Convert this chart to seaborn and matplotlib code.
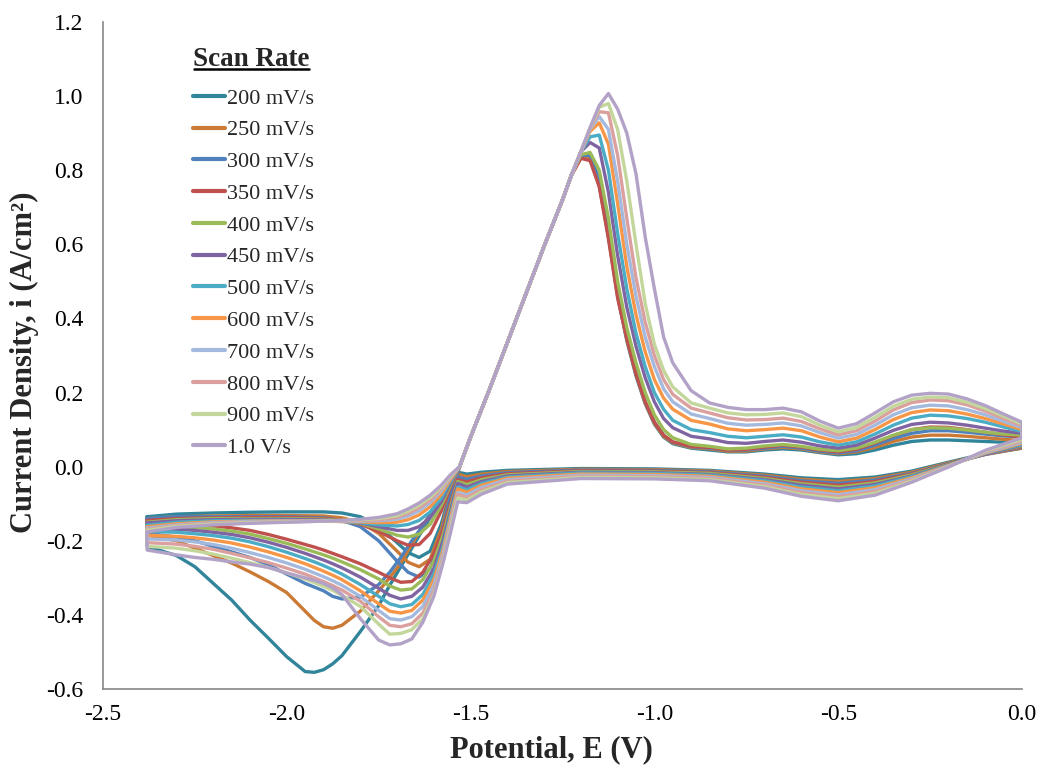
import matplotlib
matplotlib.use("Agg")
import matplotlib.pyplot as plt
import seaborn as sns
import pandas as pd
from matplotlib.ticker import MultipleLocator, FormatStrFormatter
from matplotlib.lines import Line2D
from matplotlib.transforms import IdentityTransform

# ---------------- data ----------------
labels = ['200 mV/s', '250 mV/s', '300 mV/s', '350 mV/s', '400 mV/s', '450 mV/s',
          '500 mV/s', '600 mV/s', '700 mV/s', '800 mV/s', '900 mV/s', '1.0 V/s']
colors = ['#31859B', '#CB7A35', '#4F81BD', '#C0504D', '#9BBB59', '#8064A2',
          '#4BACC6', '#F79646', '#A3B9DE', '#DBA09E', '#C3D69B', '#B3A2C7']

# return sweep (from -2.38 V back towards the anodic peak)
E_ret = [-2.38, -2.3, -2.2, -2.1, -2.0, -1.9, -1.85, -1.8, -1.75, -1.7, -1.67, -1.64, -1.61, -1.58, -1.555, -1.53]
i_ret = [
    [-0.135, -0.128, -0.125, -0.123, -0.122, -0.122, -0.125, -0.135, -0.16, -0.205, -0.232, -0.245, -0.228, -0.155, -0.07, 0.0],
    [-0.14, -0.135, -0.133, -0.132, -0.132, -0.133, -0.138, -0.15, -0.18, -0.228, -0.258, -0.27, -0.25, -0.17, -0.075, 0.0],
    [-0.14, -0.135, -0.135, -0.135, -0.135, -0.138, -0.145, -0.162, -0.2, -0.255, -0.285, -0.298, -0.275, -0.185, -0.08, 0.0],
    [-0.145, -0.14, -0.138, -0.137, -0.137, -0.14, -0.145, -0.155, -0.175, -0.2, -0.212, -0.21, -0.18, -0.12, -0.055, 0.0],
    [-0.15, -0.143, -0.14, -0.14, -0.14, -0.142, -0.146, -0.153, -0.168, -0.185, -0.19, -0.182, -0.155, -0.105, -0.05, 0.0],
    [-0.152, -0.146, -0.143, -0.142, -0.142, -0.144, -0.147, -0.152, -0.162, -0.172, -0.172, -0.162, -0.137, -0.095, -0.045, 0.0],
    [-0.158, -0.15, -0.146, -0.145, -0.145, -0.146, -0.148, -0.151, -0.157, -0.16, -0.156, -0.145, -0.122, -0.085, -0.04, 0.0],
    [-0.162, -0.154, -0.149, -0.147, -0.146, -0.147, -0.148, -0.149, -0.151, -0.15, -0.143, -0.13, -0.108, -0.075, -0.035, 0.0],
    [-0.166, -0.157, -0.151, -0.148, -0.147, -0.147, -0.147, -0.147, -0.146, -0.142, -0.133, -0.119, -0.097, -0.066, -0.03, 0.0],
    [-0.169, -0.159, -0.153, -0.15, -0.148, -0.147, -0.146, -0.145, -0.143, -0.137, -0.126, -0.111, -0.09, -0.06, -0.028, 0.0],
    [-0.172, -0.161, -0.155, -0.151, -0.149, -0.147, -0.145, -0.143, -0.14, -0.132, -0.12, -0.104, -0.083, -0.055, -0.025, 0.0],
    [-0.176, -0.164, -0.157, -0.153, -0.15, -0.147, -0.145, -0.142, -0.137, -0.127, -0.114, -0.098, -0.077, -0.05, -0.022, 0.0],
]

# common anodic rising edge
E_rise = [-1.5, -1.45, -1.4, -1.35, -1.3, -1.25]
i_rise = [0.08, 0.205, 0.335, 0.465, 0.595, 0.72]

# anodic peak region
E_peak = [-1.225, -1.2, -1.175, -1.15, -1.125, -1.1, -1.075, -1.05, -1.025, -1.0, -0.975, -0.95, -0.9]
i_peak = [
    [0.79, 0.835, 0.83, 0.76, 0.62, 0.46, 0.34, 0.245, 0.17, 0.115, 0.08, 0.062, 0.05],
    [0.79, 0.837, 0.832, 0.765, 0.625, 0.465, 0.345, 0.25, 0.172, 0.117, 0.082, 0.064, 0.052],
    [0.79, 0.84, 0.84, 0.775, 0.635, 0.47, 0.35, 0.255, 0.175, 0.12, 0.085, 0.066, 0.054],
    [0.787, 0.832, 0.826, 0.755, 0.615, 0.455, 0.345, 0.25, 0.175, 0.12, 0.085, 0.067, 0.055],
    [0.788, 0.842, 0.848, 0.8, 0.67, 0.5, 0.375, 0.28, 0.2, 0.14, 0.1, 0.078, 0.06],
    [0.788, 0.85, 0.875, 0.86, 0.74, 0.57, 0.43, 0.325, 0.24, 0.175, 0.13, 0.105, 0.082],
    [0.788, 0.85, 0.89, 0.895, 0.8, 0.63, 0.48, 0.36, 0.27, 0.2, 0.155, 0.125, 0.1],
    [0.788, 0.85, 0.905, 0.928, 0.87, 0.71, 0.54, 0.41, 0.31, 0.235, 0.185, 0.155, 0.125],
    [0.788, 0.85, 0.91, 0.945, 0.91, 0.77, 0.6, 0.46, 0.35, 0.27, 0.21, 0.175, 0.142],
    [0.788, 0.85, 0.912, 0.958, 0.955, 0.84, 0.67, 0.51, 0.39, 0.3, 0.235, 0.195, 0.158],
    [0.788, 0.85, 0.913, 0.97, 0.98, 0.91, 0.77, 0.6, 0.44, 0.33, 0.26, 0.215, 0.172],
    [0.788, 0.85, 0.915, 0.975, 1.007, 0.965, 0.9, 0.79, 0.62, 0.48, 0.35, 0.28, 0.205],
]

# anodic tail up to the switching potential (0 V)
E_tail = [-0.85, -0.8, -0.75, -0.7, -0.65, -0.6, -0.55, -0.5, -0.45, -0.4, -0.35, -0.3, -0.25, -0.2, -0.15, -0.1, -0.05, 0.0]
i_tail = [
    [0.045, 0.04, 0.04, 0.045, 0.048, 0.045, 0.038, 0.032, 0.035, 0.045, 0.058, 0.068, 0.072, 0.072, 0.07, 0.068, 0.066, 0.065],
    [0.048, 0.042, 0.042, 0.048, 0.052, 0.048, 0.04, 0.035, 0.04, 0.052, 0.068, 0.08, 0.085, 0.085, 0.082, 0.078, 0.074, 0.07],
    [0.05, 0.045, 0.045, 0.05, 0.055, 0.05, 0.042, 0.037, 0.043, 0.058, 0.076, 0.09, 0.097, 0.097, 0.093, 0.088, 0.083, 0.08],
    [0.052, 0.045, 0.047, 0.053, 0.058, 0.053, 0.045, 0.04, 0.047, 0.064, 0.084, 0.1, 0.107, 0.106, 0.1, 0.093, 0.086, 0.08],
    [0.055, 0.048, 0.05, 0.056, 0.06, 0.055, 0.047, 0.043, 0.05, 0.066, 0.085, 0.1, 0.105, 0.104, 0.099, 0.093, 0.088, 0.085],
    [0.075, 0.065, 0.063, 0.068, 0.072, 0.066, 0.056, 0.05, 0.058, 0.077, 0.098, 0.114, 0.12, 0.118, 0.112, 0.104, 0.096, 0.09],
    [0.092, 0.082, 0.078, 0.082, 0.086, 0.08, 0.067, 0.058, 0.067, 0.088, 0.112, 0.131, 0.139, 0.137, 0.13, 0.12, 0.107, 0.095],
    [0.115, 0.102, 0.097, 0.1, 0.104, 0.097, 0.08, 0.067, 0.077, 0.1, 0.127, 0.146, 0.153, 0.151, 0.142, 0.13, 0.115, 0.1],
    [0.13, 0.117, 0.112, 0.114, 0.118, 0.11, 0.092, 0.077, 0.087, 0.112, 0.14, 0.159, 0.166, 0.164, 0.154, 0.14, 0.122, 0.105],
    [0.145, 0.132, 0.126, 0.127, 0.131, 0.122, 0.102, 0.086, 0.097, 0.123, 0.153, 0.173, 0.18, 0.178, 0.167, 0.15, 0.13, 0.11],
    [0.158, 0.145, 0.14, 0.141, 0.145, 0.135, 0.112, 0.094, 0.106, 0.133, 0.163, 0.182, 0.188, 0.186, 0.174, 0.157, 0.136, 0.115],
    [0.172, 0.16, 0.154, 0.154, 0.158, 0.148, 0.123, 0.104, 0.116, 0.145, 0.175, 0.193, 0.198, 0.196, 0.183, 0.165, 0.142, 0.12],
]

# negative-going sweep from 0 V down to the kink near -1.53 V
E_low = [0.0, -0.1, -0.2, -0.3, -0.4, -0.5, -0.6, -0.7, -0.85, -1.0, -1.2, -1.4, -1.47, -1.51]
i_low = [
    [0.05, 0.035, 0.012, -0.012, -0.028, -0.035, -0.03, -0.02, -0.01, -0.006, -0.005, -0.01, -0.015, -0.02],
    [0.05, 0.033, 0.01, -0.015, -0.032, -0.04, -0.034, -0.023, -0.012, -0.008, -0.007, -0.013, -0.02, -0.027],
    [0.052, 0.033, 0.008, -0.018, -0.036, -0.045, -0.038, -0.026, -0.014, -0.01, -0.009, -0.016, -0.025, -0.034],
    [0.054, 0.034, 0.007, -0.02, -0.04, -0.05, -0.042, -0.029, -0.016, -0.012, -0.011, -0.019, -0.03, -0.041],
    [0.056, 0.035, 0.006, -0.022, -0.044, -0.055, -0.046, -0.032, -0.018, -0.014, -0.013, -0.022, -0.035, -0.048],
    [0.058, 0.035, 0.005, -0.025, -0.048, -0.06, -0.05, -0.035, -0.021, -0.016, -0.015, -0.025, -0.04, -0.055],
    [0.06, 0.036, 0.004, -0.027, -0.052, -0.065, -0.055, -0.038, -0.023, -0.018, -0.017, -0.028, -0.045, -0.062],
    [0.063, 0.037, 0.003, -0.03, -0.057, -0.07, -0.06, -0.042, -0.026, -0.021, -0.02, -0.031, -0.05, -0.069],
    [0.066, 0.038, 0.002, -0.033, -0.062, -0.076, -0.065, -0.046, -0.029, -0.024, -0.023, -0.035, -0.056, -0.076],
    [0.07, 0.04, 0.001, -0.036, -0.067, -0.081, -0.07, -0.05, -0.032, -0.027, -0.026, -0.039, -0.062, -0.083],
    [0.074, 0.042, 0.0, -0.039, -0.072, -0.086, -0.075, -0.054, -0.035, -0.03, -0.029, -0.043, -0.068, -0.09],
    [0.078, 0.044, -0.001, -0.042, -0.077, -0.092, -0.08, -0.058, -0.038, -0.033, -0.032, -0.047, -0.074, -0.097],
]

# cathodic (negative-going) sweep from the kink to -2.38 V
E_fwd = [-1.535, -1.555, -1.575, -1.6, -1.63, -1.66, -1.69, -1.72, -1.75, -1.8, -1.85, -1.875, -1.9, -1.925,
         -1.95, -2.0, -2.05, -2.1, -2.15, -2.2, -2.25, -2.3, -2.38]
i_fwd = [
    [-0.015, -0.045, -0.08, -0.12, -0.17, -0.22, -0.27, -0.32, -0.375, -0.445, -0.51, -0.532, -0.548, -0.555, -0.553, -0.513, -0.463, -0.414, -0.36, -0.315, -0.27, -0.24, -0.215],
    [-0.02, -0.045, -0.075, -0.11, -0.16, -0.21, -0.26, -0.3, -0.335, -0.39, -0.428, -0.436, -0.432, -0.415, -0.39, -0.34, -0.31, -0.284, -0.26, -0.24, -0.22, -0.2, -0.185],
    [-0.028, -0.05, -0.08, -0.115, -0.16, -0.2, -0.245, -0.285, -0.318, -0.352, -0.357, -0.35, -0.335, -0.325, -0.315, -0.29, -0.265, -0.245, -0.23, -0.215, -0.2, -0.19, -0.18],
    [-0.035, -0.1, -0.17, -0.235, -0.285, -0.31, -0.312, -0.3, -0.285, -0.262, -0.243, -0.234, -0.225, -0.217, -0.21, -0.196, -0.183, -0.172, -0.165, -0.16, -0.157, -0.155, -0.155],
    [-0.04, -0.11, -0.185, -0.255, -0.305, -0.33, -0.333, -0.322, -0.303, -0.278, -0.257, -0.247, -0.238, -0.23, -0.222, -0.207, -0.194, -0.182, -0.174, -0.168, -0.164, -0.162, -0.162],
    [-0.045, -0.12, -0.2, -0.275, -0.325, -0.35, -0.357, -0.347, -0.328, -0.298, -0.273, -0.262, -0.252, -0.243, -0.234, -0.218, -0.204, -0.192, -0.183, -0.177, -0.172, -0.169, -0.168],
    [-0.055, -0.13, -0.215, -0.29, -0.345, -0.372, -0.378, -0.37, -0.35, -0.318, -0.29, -0.278, -0.267, -0.257, -0.248, -0.231, -0.216, -0.203, -0.193, -0.186, -0.181, -0.177, -0.175],
    [-0.06, -0.14, -0.225, -0.305, -0.36, -0.388, -0.395, -0.39, -0.37, -0.335, -0.305, -0.293, -0.282, -0.272, -0.262, -0.245, -0.23, -0.217, -0.206, -0.198, -0.192, -0.188, -0.185],
    [-0.07, -0.15, -0.235, -0.32, -0.377, -0.405, -0.414, -0.41, -0.388, -0.35, -0.32, -0.308, -0.297, -0.287, -0.277, -0.26, -0.245, -0.232, -0.22, -0.21, -0.203, -0.198, -0.195],
    [-0.075, -0.16, -0.245, -0.335, -0.395, -0.424, -0.432, -0.428, -0.405, -0.363, -0.333, -0.321, -0.31, -0.3, -0.29, -0.274, -0.259, -0.246, -0.234, -0.223, -0.215, -0.209, -0.205],
    [-0.085, -0.17, -0.255, -0.345, -0.41, -0.44, -0.45, -0.452, -0.425, -0.377, -0.347, -0.334, -0.323, -0.313, -0.303, -0.287, -0.272, -0.259, -0.247, -0.236, -0.227, -0.22, -0.215],
    [-0.095, -0.18, -0.26, -0.35, -0.42, -0.465, -0.478, -0.481, -0.468, -0.41, -0.345, -0.327, -0.315, -0.307, -0.3, -0.287, -0.272, -0.263, -0.257, -0.25, -0.245, -0.238, -0.225],
]

# ---------------- assemble closed loops ----------------
rows = []
for k, lab in enumerate(labels):
    E = E_ret + E_rise + E_peak + E_tail + E_low + E_fwd + [E_ret[0]]
    I = i_ret[k] + i_rise + i_peak[k] + i_tail[k] + i_low[k] + i_fwd[k] + [i_ret[k][0]]
    for n, (e, c) in enumerate(zip(E, I)):
        rows.append({'rate': lab, 'step': n, 'E': e, 'i': c})
df = pd.DataFrame(rows)

# ---------------- plot ----------------
sns.set_style('white')
plt.rcParams['font.family'] = ['Liberation Serif', 'DejaVu Serif']
plt.rcParams['axes.unicode_minus'] = False

W, H = 1043, 770
fig = plt.figure(figsize=(W / 100, H / 100), dpi=100)
ax = fig.add_axes([0.09875, 0.10519, 0.88111, 0.86623])

sns.lineplot(data=df, x='E', y='i', hue='rate', hue_order=labels, palette=colors,
             sort=False, estimator=None, linewidth=2.4, ax=ax, legend=False)

ax.set_xlim(-2.5, 0.0)
ax.set_ylim(-0.6, 1.2)
ax.xaxis.set_major_locator(MultipleLocator(0.5))
ax.xaxis.set_minor_locator(MultipleLocator(0.1))
ax.yaxis.set_major_locator(MultipleLocator(0.2))
ax.yaxis.set_minor_locator(MultipleLocator(0.04))
ax.xaxis.set_major_formatter(FormatStrFormatter('%.1f'))
ax.yaxis.set_major_formatter(FormatStrFormatter('%.1f'))

axis_gray = '#868686'
for s in ['top', 'right']:
    ax.spines[s].set_visible(False)
for s in ['left', 'bottom']:
    ax.spines[s].set_color(axis_gray)
    ax.spines[s].set_linewidth(1.2)
ax.tick_params(which='major', direction='inout', length=10, width=1.2, color=axis_gray,
               labelsize=17, labelcolor='black')
ax.tick_params(which='minor', direction='in', length=5, width=1.2, color=axis_gray)
ax.tick_params(axis='y', which='major', pad=9)
ax.tick_params(axis='x', which='major', pad=6)
ax.grid(False)

ax.set_xlabel('Potential, E (V)', fontsize=22, fontweight='bold')
ax.set_ylabel('Current Density, i (A/cm²)', fontsize=22, fontweight='bold')
ax.xaxis.set_label_coords(0.4875, -0.07)
ax.yaxis.set_label_coords(-0.0696, 0.49)

# legend entries (title drawn separately so it can be underlined)
handles = [Line2D([], [], color=c, lw=3) for c in colors]
anchor = [0.097, 0.9]
leg = ax.legend(handles, labels, loc='upper left', bbox_to_anchor=tuple(anchor),
                frameon=False, fontsize=16, handlelength=1.45, handletextpad=0.08,
                labelspacing=0.505, borderaxespad=0, borderpad=0)
fig.canvas.draw()
r = fig.canvas.get_renderer()
tb = leg.get_texts()[0].get_window_extent(r)
target_cy = H - 99          # centre of first entry (display coords)
target_x0 = 227             # left edge of first entry text
dy = (target_cy - (tb.y0 + tb.y1) / 2) / (ax.bbox.height)
dx = (target_x0 - tb.x0) / (ax.bbox.width)
leg.set_bbox_to_anchor((anchor[0] + dx, anchor[1] + dy), transform=ax.transAxes)

title = fig.text(193 / W, 1 - 66 / H, 'Scan Rate', ha='left', va='baseline',
                 fontsize=19.5, fontweight='bold')
fig.canvas.draw()
bb = title.get_window_extent(r)
yb = H - 66 - 3
fig.add_artist(Line2D([bb.x0 + 1, bb.x1 - 1], [yb, yb], color='black',
                      lw=1.8, transform=IdentityTransform()))

fig.savefig('out.png', dpi=100)
